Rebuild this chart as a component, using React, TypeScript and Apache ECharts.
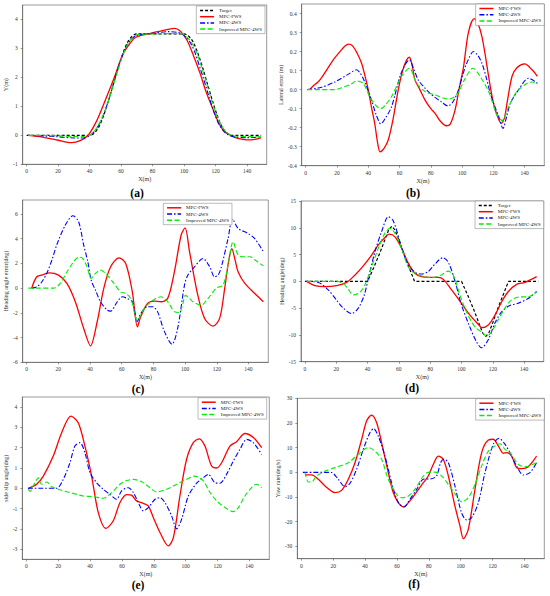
import React, { useEffect, useRef } from "react";
import * as echarts from "echarts";

const FONT = "'Liberation Serif', 'Times New Roman', serif";

// ---------- ticks ----------
const xTicks = [0, 20, 40, 60, 80, 100, 120, 140];
const aYTicks = [-1, 0, 1, 2, 3, 4];
const bYTicks = [-0.4, -0.3, -0.2, -0.1, 0, 0.1, 0.2, 0.3, 0.4];
const cYTicks = [-6, -4, -2, 0, 2, 4, 6];
const dYTicks = [-15, -10, -5, 0, 5, 10, 15];
const eYTicks = [-3, -2, -1, 0, 1, 2, 3, 4];
const fYTicks = [-30, -20, -10, 0, 10, 20, 30];

// ---------- (a) Y(m) ----------
const aTarget = [[0,0],[40,0],[43,0.08],[46,0.3],[49,0.7],[52,1.2],[55,1.75],[58,2.3],[61,2.8],[64,3.2],[67,3.42],[70,3.5],[100,3.5],[103,3.42],[106,3.2],[109,2.8],[112,2.3],[115,1.75],[118,1.2],[121,0.7],[124,0.3],[127,0.08],[130,0],[149,0]];
const aFWS = [[1,0],[10,-0.06],[20,-0.17],[28.6,-0.25],[34,-0.18],[39,0],[44.5,0.5],[49.5,1.15],[55,1.9],[61.4,2.83],[66,3.2],[69,3.38],[74,3.47],[82.5,3.57],[88.5,3.64],[94,3.69],[97.5,3.6],[101.8,3.29],[106,2.75],[110.2,2.14],[114,1.5],[118.6,0.87],[122.3,0.4],[125.4,0.15],[129.5,0],[133.6,-0.1],[139.8,-0.16],[145,-0.14],[149,-0.08]];
const a4WS = [[1,0],[10,-0.02],[20,-0.05],[30,-0.09],[36,-0.09],[40,-0.02],[44,0.2],[48,0.6],[52,1.2],[55,1.75],[58,2.3],[61,2.78],[64,3.12],[67,3.35],[71,3.47],[80,3.52],[90,3.58],[97,3.54],[101,3.4],[104,3.2],[107,2.85],[110,2.35],[113,1.85],[116,1.3],[119,0.8],[122,0.4],[125,0.15],[128,0.02],[132,-0.05],[140,-0.08],[149,-0.05]];
const aImp = [[1,0],[10,0],[20,-0.02],[30,-0.04],[37,-0.03],[41,0.03],[45,0.3],[49,0.75],[52,1.2],[55,1.72],[58,2.25],[61,2.75],[64,3.12],[67,3.36],[71,3.48],[80,3.5],[98,3.52],[102,3.38],[105,3.18],[108,2.85],[111,2.38],[114,1.85],[117,1.3],[120,0.8],[123,0.42],[126,0.16],[129,0.03],[133,-0.03],[149,-0.05]];

// ---------- (b) Lateral error ----------
const bFWS = [[2.6,0],[5,0.02],[7.9,0.04],[10,0.06],[14,0.11],[18,0.16],[22,0.2],[25,0.228],[27.6,0.239],[30,0.23],[33,0.19],[35.7,0.14],[38,0.07],[40,0],[42,-0.09],[44.2,-0.18],[46,-0.28],[47.6,-0.327],[50,-0.31],[52.8,-0.265],[56,-0.15],[59.2,0],[62,0.1],[64.5,0.155],[66.3,0.17],[68,0.13],[69.9,0.05],[73,0],[76.3,-0.055],[80,-0.1],[82.7,-0.125],[86,-0.165],[89.8,-0.19],[92.5,-0.18],[95.5,-0.107],[98,0],[100.9,0.12],[104,0.3],[107.7,0.373],[110,0.35],[112.6,0.28],[114.8,0.18],[116.9,0.07],[119,-0.03],[121.2,-0.107],[125,-0.177],[127,-0.15],[128.7,-0.07],[131.9,0.07],[135,0.115],[140,0.135],[144.7,0.104],[148.1,0.069]];
const b4WS = [[1,0],[10,0.012],[18.6,0.04],[27.1,0.08],[32.5,0.104],[35,0.085],[37.8,0.04],[42.1,-0.055],[45,-0.13],[48.1,-0.18],[51,-0.15],[54.9,-0.09],[60.3,0.07],[63.5,0.13],[66.3,0.156],[69,0.11],[72,0.05],[76,0.01],[80.6,-0.028],[86,-0.06],[91,-0.086],[94.5,-0.06],[97.7,0],[100.5,0.08],[103,0.14],[107.3,0.2],[110,0.18],[112.6,0.14],[115.5,0.06],[118,-0.02],[120.5,-0.08],[123.3,-0.14],[126.1,-0.204],[128.5,-0.14],[130.8,-0.072],[136.1,0],[142.5,0.06],[148.1,0.033]];
const bImp = [[1,0],[10,0],[18.6,0],[24,0.012],[29.3,0.03],[32.5,0.046],[36.8,0.033],[41,-0.037],[44.5,-0.08],[48.1,-0.1],[51,-0.08],[54.9,-0.037],[61.3,0.07],[66.3,0.112],[71,0.033],[76.3,-0.01],[82.7,-0.028],[91.3,-0.05],[96.6,-0.028],[102,0.06],[106.9,0.112],[111.6,0.068],[116.9,-0.01],[119.5,-0.07],[122.2,-0.134],[125.5,-0.163],[129.7,-0.09],[135,-0.01],[141.5,0.033],[144.7,0.04],[148,0.025]];

// ---------- (c) Heading angle error ----------
const cFWS = [[3.2,0],[6.4,0.92],[10.6,1.1],[14.4,1.24],[20.1,1.05],[25.4,0.38],[30.7,-1.1],[36,-3.26],[40.3,-4.67],[44.5,-2.72],[48.7,0],[53,1.73],[58.3,2.45],[62.5,2.0],[66.7,-0.3],[69.9,-3.13],[72,-2.3],[76.3,-1.24],[80.5,-1.05],[84.7,-1.1],[89,-0.83],[93.2,1.3],[97.5,4.3],[100,4.88],[102.8,2.94],[108,-0.57],[112.3,-2.45],[117.6,-3.07],[121.8,-2.45],[125,0],[127.5,2.2],[129.5,3.2],[131.5,2.3],[133.5,1.3],[137.7,0.38],[144,-0.43],[149.4,-1.1]];
const c4WS = [[3.2,0],[6.4,0.1],[9.5,0.5],[12.7,1.2],[16,2.3],[19,3.5],[24.4,5.1],[29.2,5.85],[32.8,5.37],[36,3.48],[38.6,2.13],[40.7,0.65],[43.4,-0.16],[46.6,-1.1],[50.8,-1.78],[53,-1.86],[57.2,-1.1],[60.4,-0.7],[63.6,-0.84],[66.7,-1.1],[69.9,-2.7],[72,-2.05],[76.3,-1.5],[79.4,-1.5],[82.6,-1.9],[86.9,-3.5],[91.7,-4.53],[95.3,-3.26],[99.6,0.24],[101.7,1.05],[106,1.73],[111.2,2.4],[115.5,1.73],[118.6,0.92],[120.8,1.05],[122.9,1.73],[127.1,4.0],[129.9,5.58],[133.5,4.83],[139.8,4.42],[144,4.0],[149.4,2.94]];
const cImp = [[1,0],[8.5,0],[17,0],[21.2,0.38],[25.4,1.3],[30,2.2],[33,2.5],[35,2.45],[38.1,1.73],[40.7,0.78],[43.4,1.2],[46.6,1.46],[50.8,1.05],[55.1,0.38],[59.3,-0.3],[62.5,-0.43],[65.7,-0.84],[69.9,-2.6],[74.2,-1.64],[78.4,-1.1],[81.6,-0.84],[84.7,-0.7],[89,-1.1],[93.2,-1.9],[96.4,-1.97],[98.5,-1.3],[100.2,-0.57],[102.5,-0.8],[104.9,-1.1],[110.2,-1.37],[114.4,-0.84],[119.7,0],[123.9,0.24],[127,1.8],[130.3,3.75],[133.5,2.67],[137.7,2.54],[140.9,2.54],[145.1,2.18],[149.4,1.8]];

// ---------- (d) Heading angle ----------
const dTarget = [[0,0],[40,0],[44,2.6],[48,5.4],[51,7.7],[53.5,9.6],[55.5,10.3],[57.5,9.6],[60,7.7],[63,5.2],[66.5,2.6],[70,0],[100,0],[104,-2.6],[108,-5.4],[111,-7.7],[113.5,-9.6],[115.5,-10.3],[117.5,-9.6],[120,-7.7],[123,-5.2],[126.5,-2.6],[130,0],[149,0]];
const dFWS = [[1,0],[6.4,-0.8],[12.8,-1.0],[20.3,-0.8],[26.6,-0.2],[32,1.2],[37.3,2.9],[42.6,4.9],[46.9,6.8],[51.1,8.2],[53.9,8.8],[57.5,8.3],[61.7,6.2],[66,3.4],[70.2,1.5],[74.5,0.87],[79.8,0.75],[85.2,0.75],[88.4,0.37],[93.7,-1.6],[100,-4.1],[105.4,-6.3],[110.7,-8.0],[112.9,-8.65],[117.1,-8.15],[121.4,-6.3],[125.7,-3.8],[129.9,-1.9],[135.2,-0.56],[140.5,-0.2],[148,0.87]];
const d4WS = [[1,0],[8.6,-0.2],[14.9,-1.6],[20.2,-3.5],[24.5,-5.0],[29.8,-6.0],[34.1,-5.0],[37.9,-2.55],[40.5,0.56],[44.7,5.5],[49,9.3],[53.3,12.07],[56.4,11.3],[60.7,7.4],[65,3.7],[70.2,1.7],[74.5,1.37],[78.7,1.8],[83,3.2],[88,4.4],[91.5,3.6],[95.7,0.2],[100,-4.4],[105.3,-8.5],[109.6,-11.3],[112.8,-12.4],[117.1,-10.9],[121.3,-7.8],[125.6,-5.7],[130.9,-4.5],[136.2,-4.1],[142.6,-3.2],[148,-1.9]];
const dImp = [[1,0],[20,0],[24.5,-0.4],[27.7,-1.5],[30.9,-2.55],[35.1,-2.05],[38.3,-0.68],[42.6,2.7],[46.9,6.2],[51.1,9.0],[54.3,9.9],[57.5,9.0],[61.7,6.2],[66,2.7],[70.2,1.5],[76.6,0.87],[80.8,0.68],[87.2,1.2],[91.5,1.9],[94.7,1.2],[99,-2.55],[103.2,-5.7],[108.6,-8.5],[113.9,-9.7],[116,-10.3],[119.2,-9.4],[123.4,-7.2],[127.7,-5.0],[131.9,-3.5],[137.2,-2.9],[142.6,-2.9],[148,-1.9]];

// ---------- (e) side slip angle ----------
const eFWS = [[1.3,0],[6.5,0.2],[10.7,0.6],[17,1.6],[22.2,2.74],[28,3.56],[32.6,3.23],[36.8,2.08],[41,0.6],[45.2,-1.2],[50,-1.98],[54.6,-1.6],[58.8,-0.7],[63,-0.31],[66.1,-0.34],[69.2,-0.62],[73.4,-0.74],[76.6,-0.87],[79.7,-1.44],[83.9,-2.18],[89.1,-2.84],[92.3,-2.43],[96.4,-0.38],[100.6,1.43],[104.8,2.25],[108.6,2.44],[112.1,2.08],[116.3,1.1],[119.5,1.0],[122.6,1.26],[127.8,2.08],[132,2.3],[137.2,2.7],[142.5,2.5],[147.7,2.0]];
const e4WS = [[1,0],[10,0],[19,0],[23.2,0.44],[27.4,1.26],[30.5,2.08],[33.7,2.25],[36.8,1.75],[40,0.77],[44.1,0.28],[48.3,-0.05],[52.5,-0.3],[56.7,-0.54],[59.8,-0.13],[64,0.03],[67.2,-0.21],[71.3,-0.87],[73.4,-1.11],[76.6,-0.95],[80.8,-0.54],[83.9,-0.46],[87,-0.7],[91.2,-1.36],[94.4,-2.0],[97.5,-1.52],[101.7,-0.38],[106.9,0.25],[111.1,0.52],[114.2,0.69],[118.4,0.28],[121.5,0.25],[125.7,0.69],[129.9,1.34],[134.1,1.92],[138.3,2.41],[142.5,2.25],[147.7,1.67]];
const eImp = [[1.3,-0.05],[2.5,-0.15],[4,0.05],[5.5,0.3],[7.5,0.52],[9.6,0.2],[12.8,0.31],[15.9,0.08],[20,-0.05],[27.4,-0.21],[35.8,-0.38],[42,-0.41],[48.3,-0.49],[53.6,-0.21],[58.8,0.2],[63,0.38],[67.2,0.44],[73.4,0.28],[78.7,-0.05],[81.8,-0.18],[88.1,-0.05],[94.4,0.2],[100.6,0.44],[105.9,0.6],[111.1,0.36],[115.3,-0.21],[119.5,-0.62],[124.7,-0.95],[129.9,-1.15],[133.1,-0.95],[137.2,-0.38],[141.4,0.03],[144.6,0.2],[147.7,0.03]];

// ---------- (f) Yaw rate ----------
const fFWS = [[2.7,-1],[6.5,-1],[10.7,-2.8],[14.9,-5.5],[21.1,-8.2],[25.3,-7.3],[29.5,-2.8],[33.7,3.9],[37.9,13.4],[41,20.8],[44.1,23.2],[47.3,20.1],[50.4,12],[54.6,-0.1],[57.7,-8.2],[60.9,-12.3],[64,-14],[67.2,-12.3],[71.3,-8.9],[76.6,-4.2],[79.7,-1.5],[82.8,3.2],[86,6.6],[89.1,5.3],[92.3,-1.5],[96.4,-13.6],[99.6,-21.8],[101.7,-26.9],[104.8,-23.1],[109,-6.9],[113.2,8],[117.4,13.1],[120.5,13.4],[123.6,10.7],[126.8,7.7],[128.9,8],[132,6.6],[135.1,1.9],[138.3,1.5],[142.5,2.3],[147.7,6.6]];
const f4WS = [[1,0],[14.9,0],[19,-0.1],[23.2,-2.8],[27.4,-5.8],[30.5,-4.5],[34.7,1.2],[38.9,9.3],[43.1,16.1],[45.4,17.7],[48.3,14.7],[52.5,6.6],[56.7,-4.2],[60.9,-12.3],[64.6,-14],[68.2,-10.9],[72.4,-6.9],[76.6,-2.8],[81.8,-2.6],[84.9,-1.5],[87.5,4.0],[89.5,5.3],[92.3,3.9],[96.4,-5.5],[100.6,-16.4],[103.8,-19.3],[106.9,-18.4],[111.1,-12.3],[115.3,-0.1],[120.5,11.4],[124.1,13.8],[127.8,11.4],[130.9,8],[135.1,2.6],[139.3,-1.1],[143.5,-0.1],[147.7,3.9]];
const fImp = [[2.3,0],[4.4,-3.9],[6.5,-3.9],[9.6,-1.5],[14.9,0.5],[21.1,1.9],[29.5,3.9],[35.8,7.3],[42,10],[46.2,8.6],[50.4,5.3],[54.6,-2.8],[59.8,-8.9],[62.9,-10.3],[67.2,-9.6],[71.3,-6.9],[76.6,-1.5],[79.7,0],[83.9,0.1],[88.1,-1.5],[92.3,-4.9],[97.5,-9.6],[100.6,-12],[104.8,-10.3],[109,-4.9],[113.2,2.6],[117.4,8.6],[121.5,10.7],[124.7,11.6],[127.8,9.3],[130.9,8],[136.2,3.2],[140.4,2.3],[147.7,3.9]];

const STYLES: Record<string, any> = {
  "Target": { color: "#000000", width: 1.2, type: [3, 2] },
  "MPC-FWS": { color: "#ff0000", width: 1.3, type: "solid" },
  "MPC-4WS": { color: "#0000ff", width: 1.1, type: [5, 2, 1.5, 2] },
  "Improved MPC-4WS": { color: "#00ee00", width: 1.1, type: [5, 2.5] },
};

function buildOption() {
  const panels = [
    {
      grid: { left: 22.7, top: 5, width: 244, height: 159.3 },
      yMin: -1, yMax: 4.5, yTicks: aYTicks, dec: 0, yName: "Y(m)", yGap: 14,
      lines: [["Target", aTarget], ["MPC-FWS", aFWS], ["MPC-4WS", a4WS], ["Improved MPC-4WS", aImp]],
      legend: { right: 285, top: 6 }, label: "(a)", lx: 137, ly: 193,
    },
    {
      grid: { left: 301.7, top: 4, width: 242.6, height: 161.7 },
      yMin: -0.4, yMax: 0.45, yTicks: bYTicks, dec: 1, yName: "Lateral error (m)", yGap: 16,
      lines: [["MPC-FWS", bFWS], ["MPC-4WS", b4WS], ["Improved MPC-4WS", bImp]],
      legend: { right: 5.7, top: 4 }, label: "(b)", lx: 413, ly: 193,
    },
    {
      grid: { left: 22.7, top: 200, width: 245.6, height: 162.3 },
      yMin: -6, yMax: 7.13, yTicks: cYTicks, dec: 0, yName: "Heading angle error(deg)", yGap: 13,
      lines: [["MPC-FWS", cFWS], ["MPC-4WS", c4WS], ["Improved MPC-4WS", cImp]],
      legend: { left: 163.3, top: 203.3 }, label: "(c)", lx: 138, ly: 389,
    },
    {
      grid: { left: 301, top: 201, width: 242.7, height: 160.7 },
      yMin: -15, yMax: 15, yTicks: dYTicks, dec: 0, yName: "Heading angle(deg)", yGap: 15,
      lines: [["Target", dTarget], ["MPC-FWS", dFWS], ["MPC-4WS", d4WS], ["Improved MPC-4WS", dImp]],
      legend: { right: 6.3, top: 201 }, label: "(d)", lx: 412, ly: 388,
    },
    {
      grid: { left: 22.3, top: 397, width: 247, height: 162.3 },
      yMin: -3.5, yMax: 4.5, yTicks: eYTicks, dec: 0, yName: "side slip angle(deg)", yGap: 13,
      lines: [["MPC-FWS", eFWS], ["MPC-4WS", e4WS], ["Improved MPC-4WS", eImp]],
      legend: { right: 283.3, top: 397.7 }, label: "(e)", lx: 138, ly: 585,
    },
    {
      grid: { left: 297.3, top: 398.3, width: 247, height: 160.4 },
      yMin: -35, yMax: 30, yTicks: fYTicks, dec: 0, yName: "Yaw rate(deg/s)", yGap: 13,
      lines: [["MPC-FWS", fFWS], ["MPC-4WS", f4WS], ["Improved MPC-4WS", fImp]],
      legend: { right: 5.7, top: 398.7 }, label: "(f)", lx: 414, ly: 584,
    },
  ];

  const grid: any[] = [];
  const xAxis: any[] = [];
  const yAxis: any[] = [];
  const series: any[] = [];
  const legend: any[] = [];
  const graphic: any[] = [];
  const axisColor = "#555";

  panels.forEach((p, i) => {
    grid.push({ ...p.grid, show: true, borderColor: axisColor, borderWidth: 0.6, backgroundColor: "transparent" });
    xAxis.push({
      type: "value", gridIndex: i, min: -2.5, max: 152.5,
      axisLine: { show: true, onZero: false, lineStyle: { color: axisColor, width: 0.6 } },
      axisTick: { show: true, customValues: xTicks, length: 2, lineStyle: { color: axisColor, width: 0.6 } },
      axisLabel: { customValues: xTicks, fontSize: 5.5, margin: 4, color: "#333", fontFamily: FONT },
      splitLine: { show: false },
      name: "X(m)", nameLocation: "middle", nameGap: 12,
      nameTextStyle: { fontSize: 6, color: "#333", fontFamily: FONT },
    });
    yAxis.push({
      type: "value", gridIndex: i, min: p.yMin, max: p.yMax,
      axisLine: { show: true, onZero: false, lineStyle: { color: axisColor, width: 0.6 } },
      axisTick: { show: true, customValues: p.yTicks, length: 2, lineStyle: { color: axisColor, width: 0.6 } },
      axisLabel: {
        customValues: p.yTicks, fontSize: 5.5, margin: 5, color: "#333", fontFamily: FONT,
        formatter: (v: number) => v.toFixed(p.dec),
      },
      splitLine: { show: false },
      name: p.yName, nameLocation: "middle", nameGap: p.yGap, nameRotate: 90,
      nameTextStyle: { fontSize: 6, color: "#333", fontFamily: FONT },
    });
    p.lines.forEach(([name, data]: any) => {
      const s = STYLES[name];
      series.push({
        type: "line", name, xAxisIndex: i, yAxisIndex: i, data,
        symbol: "none", showSymbol: false, smooth: name === "Target" && i === 3 ? false : 0.3,
        lineStyle: { color: s.color, width: s.width, type: s.type },
        itemStyle: { color: s.color },
        emphasis: { disabled: true },
      });
    });
    legend.push({
      ...p.legend,
      orient: "vertical",
      data: p.lines.map((l: any) => l[0]),
      selectedMode: false,
      itemWidth: 14, itemHeight: 5, itemGap: 1.2,
      padding: [2, 3, 2, 3],
      backgroundColor: "#fff",
      borderColor: "#777", borderWidth: 0.5,
      textStyle: { fontSize: 5, color: "#222", fontFamily: FONT },
      itemStyle: { opacity: 0, borderWidth: 0 },
      lineStyle: { width: 1.5 },
    });
    graphic.push({
      type: "text", x: p.lx, y: p.ly,
      style: {
        text: p.label, fontSize: 11.5, fontWeight: "bold", fontFamily: FONT,
        fill: "#000", align: "center", verticalAlign: "middle",
      },
    });
  });

  return {
    animation: false,
    backgroundColor: "#fff",
    grid, xAxis, yAxis, series, legend, graphic,
  };
}

export default function App() {
  const ref = useRef<HTMLDivElement>(null);
  useEffect(() => {
    if (!ref.current) return;
    const chart = echarts.init(ref.current, undefined, { renderer: "svg" });
    chart.setOption(buildOption() as any);
    return () => chart.dispose();
  }, []);
  return (
    <div
      ref={ref}
      style={{ position: "absolute", left: 0, top: 0, width: 550, height: 596, background: "#fff" }}
    />
  );
}
